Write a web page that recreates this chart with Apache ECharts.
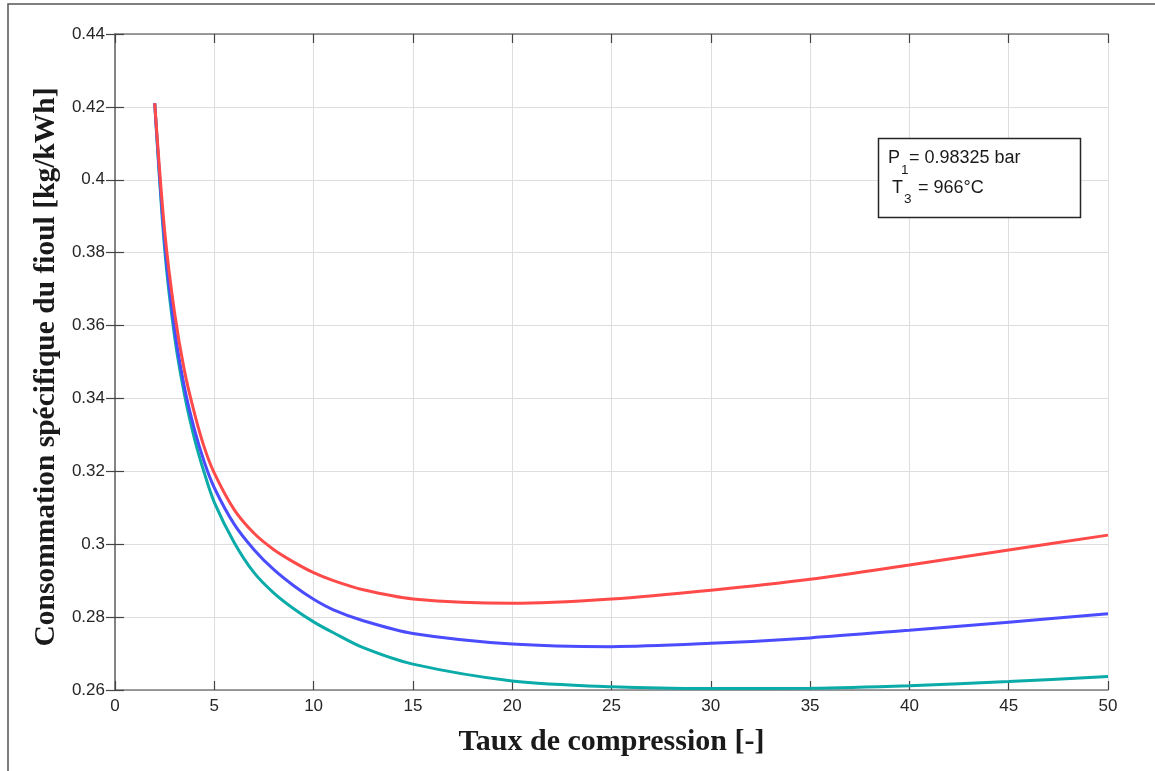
<!DOCTYPE html>
<html>
<head>
<meta charset="utf-8">
<script src="https://cdn.jsdelivr.net/npm/echarts@6/dist/echarts.min.js"></script>
<style>
  html, body { margin: 0; padding: 0; background: #fff; }
  #chart { width: 1155px; height: 771px; }
</style>
</head>
<body>
<div id="chart"></div>
<script>
// Compression ratio (x) shared by all three curves
const ratios = [2, 2.5, 3, 3.5, 4, 4.5, 5, 6, 7, 8, 9, 10, 11, 12.5, 15, 20, 25, 30, 35, 40, 45, 50];

// Specific fuel consumption [kg/kWh]
const sfcRed = [0.421, 0.386, 0.3635, 0.3475, 0.336, 0.3265, 0.3195, 0.3095, 0.3030, 0.2985,
  0.2951, 0.2922, 0.2900, 0.2875, 0.2850, 0.2838, 0.2850, 0.2874, 0.2904, 0.2943, 0.2984, 0.3025];
const sfcBlue = [0.421, 0.383, 0.359, 0.343, 0.3315, 0.3225, 0.3155, 0.3055, 0.2985, 0.2930,
  0.2886, 0.2849, 0.2820, 0.2790, 0.2755, 0.2726, 0.2719, 0.2728, 0.2743, 0.2764, 0.2786, 0.2809];
const sfcTeal = [0.421, 0.381, 0.357, 0.341, 0.329, 0.3195, 0.3115, 0.3005, 0.2922, 0.2866,
  0.2823, 0.2787, 0.2757, 0.2716, 0.2671, 0.2625, 0.2609, 0.2604, 0.2605, 0.2612, 0.2623, 0.2637];

const xTicks = { min: 0, max: 50, step: 5 };
const yTicks = { min: 0.26, max: 0.44, step: 0.02 };

const pairs = (ys) => ratios.map((x, i) => [x, ys[i]]);

const sans = 'Liberation Sans, Arial, sans-serif';
const serif = 'Liberation Serif, Times New Roman, serif';

const axisLine = { show: true, lineStyle: { color: '#7d7d7d', width: 1.5 } };
const axisTick = { show: true, inside: true, length: 9, lineStyle: { color: '#444', width: 1.2 } };
const tickFont = { color: '#262626', fontSize: 17, fontFamily: sans };
const titleFont = { color: '#1a1a1a', fontSize: 30, fontWeight: 'bold', fontFamily: serif };

const chart = echarts.init(document.getElementById('chart'), null, { renderer: 'canvas' });

// small text helper for the annotation box
const label = (x, y, text, size) => ({
  type: 'text', x: x, y: y, z: 11,
  style: { text: text, fontSize: size, fontFamily: sans, fill: '#1a1a1a', verticalAlign: 'middle', align: 'left' }
});

chart.setOption({
  animation: false,
  backgroundColor: '#fff',
  grid: { left: 115, top: 34, right: 47, bottom: 81, containLabel: false },
  xAxis: [
    {
      type: 'value', min: xTicks.min, max: xTicks.max, interval: xTicks.step,
      name: 'Taux de compression [-]', nameLocation: 'middle', nameGap: 37,
      nameTextStyle: titleFont,
      axisLine, axisTick,
      axisLabel: Object.assign({ margin: 8 }, tickFont),
      splitLine: { show: true, lineStyle: { color: '#dedede', width: 1 } }
    },
    {
      type: 'value', position: 'top', min: xTicks.min, max: xTicks.max, interval: xTicks.step,
      axisLine, axisTick, axisLabel: { show: false }, splitLine: { show: false }
    }
  ],
  yAxis: [
    {
      type: 'value', min: yTicks.min, max: yTicks.max, interval: yTicks.step,
      axisLine, axisTick,
      axisLabel: Object.assign({ margin: 10, formatter: (v) => String(Number(v.toFixed(2))) }, tickFont),
      splitLine: { show: true, lineStyle: { color: '#dedede', width: 1 } }
    },
    {
      type: 'value', position: 'right', min: yTicks.min, max: yTicks.max, interval: yTicks.step,
      axisLine, axisTick, axisLabel: { show: false }, splitLine: { show: false }
    }
  ],
  series: [
    { type: 'line', data: pairs(sfcTeal), showSymbol: false, smooth: 0.3,
      lineStyle: { color: '#0aaba8', width: 3 } },
    { type: 'line', data: pairs(sfcBlue), showSymbol: false, smooth: 0.3,
      lineStyle: { color: '#4c4cff', width: 3 } },
    { type: 'line', data: pairs(sfcRed), showSymbol: false, smooth: 0.3,
      lineStyle: { color: '#ff4a4a', width: 3 } }
  ],
  graphic: [
    // outer frame
    { type: 'rect', shape: { x: 8, y: 4, width: 1170, height: 790 },
      style: { fill: 'none', stroke: '#555', lineWidth: 1.5 }, silent: true, z: 1 },
    // vertical axis title
    { type: 'text', x: 46, y: 367, rotation: Math.PI / 2, z: 5,
      style: { text: 'Consommation spécifique du fioul [kg/kWh]', fontSize: 29.5, fontWeight: 'bold',
        fontFamily: serif, fill: '#1a1a1a', align: 'center', verticalAlign: 'middle' } },
    // annotation box
    { type: 'rect', shape: { x: 878.5, y: 138.5, width: 202, height: 79 },
      style: { fill: '#fff', stroke: '#262626', lineWidth: 1.5 }, z: 10 },
    label(888, 158, 'P', 18),
    label(901, 170, '1', 13.5),
    label(909, 158, '= 0.98325 bar', 18),
    label(892, 188, 'T', 18),
    label(904, 199, '3', 13.5),
    label(918, 188, '= 966°C', 18)
  ]
});
</script>
</body>
</html>
